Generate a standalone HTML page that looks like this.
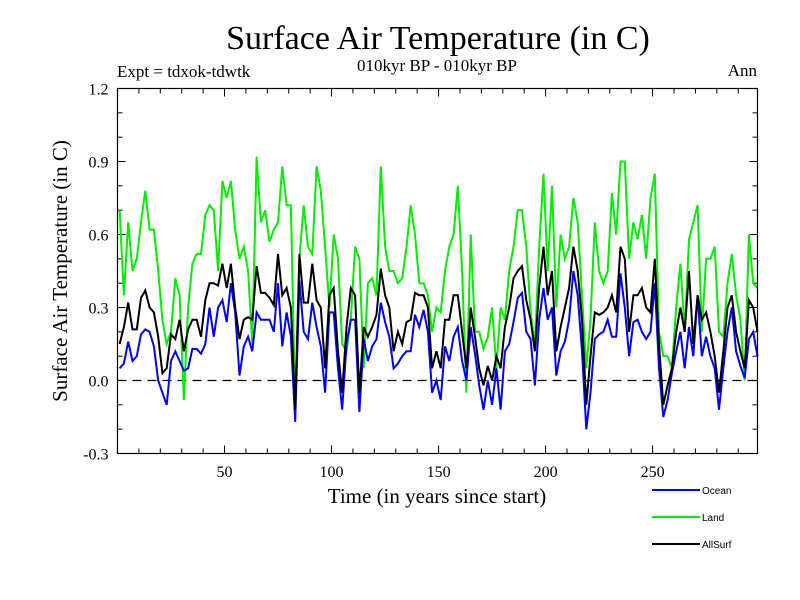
<!DOCTYPE html>
<html><head><meta charset="utf-8"><style>
html,body{margin:0;padding:0;background:#fff;}
svg{display:block;font-family:"Liberation Serif",serif;}
</style></head><body>
<svg id="chart" width="800" height="600" viewBox="0 0 800 600">
<text x="438" y="49" font-size="34" text-anchor="middle">Surface Air Temperature (in C)</text>
<text x="437" y="71" font-size="17" text-anchor="middle">010kyr BP - 010kyr BP</text>
<text x="117" y="77" font-size="17">Expt = tdxok-tdwtk</text>
<text x="757" y="76" font-size="17" text-anchor="end">Ann</text>
<text transform="translate(67,271) rotate(-90)" font-size="21" text-anchor="middle">Surface Air Temperature (in C)</text>
<text x="437" y="503" font-size="21" text-anchor="middle">Time (in years since start)</text>
<g id="ticks"></g>
<g id="series"></g>
<rect x="117.5" y="88.5" width="640" height="365" fill="none" stroke="#000" stroke-width="1.2"/>
<g font-family="Liberation Sans, sans-serif" font-size="10">
<line x1="652" y1="490" x2="700" y2="490" stroke="#0000ff" stroke-width="2"/>
<text x="702" y="494">Ocean</text>
<line x1="652" y1="517" x2="700" y2="517" stroke="#00ee00" stroke-width="2"/>
<text x="702" y="521">Land</text>
<line x1="652" y1="544" x2="700" y2="544" stroke="#000" stroke-width="2"/>
<text x="702" y="548">AllSurf</text>
</g>
</svg>
<script>
const ocean=[0.05,0.07,0.16,0.08,0.10,0.19,0.21,0.20,0.14,0.0,-0.05,-0.1,0.08,0.12,0.08,0.04,0.05,0.13,0.13,0.11,0.15,0.30,0.18,0.30,0.33,0.24,0.40,0.28,0.02,0.14,0.18,0.12,0.28,0.25,0.25,0.25,0.20,0.40,0.14,
0.28,0.18,-0.17,0.41,0.2,0.17,0.32,0.22,0.14,-0.05,0.28,0.28,0.05,-0.12,0.15,0.25,0.25,-0.13,0.17,0.08,0.14,0.17,0.32,0.24,0.18,0.05,0.07,0.1,0.12,0.12,0.27,0.22,0.29,
0.20,-0.05,0.0,
-0.08,0.14,0.08,0.18,0.22,0.08,0.0,0.22,0.11,-0.02,-0.12,0.0,-0.1,0.05,-0.12,0.12,0.15,0.24,0.34,0.36,0.2,0.17,-0.02,0.25,0.38,0.25,0.3,0.02,0.12,0.16,0.25,0.45,0.35,0.12,-0.2,-0.05,0.17,0.19,
0.2,0.25,0.18,0.18,0.44,0.3,0.1,0.24,0.25,0.2,0.17,0.2,0.4,0.05,-0.15,-0.08,0.03,0.12,0.2,0.05,0.22,0.1,0.35,0.1,0.18,0.1,0.05,-0.12,0.05,0.2,0.3,0.12,0.06,0.01,0.17,0.2,0.1];
const land=[0.70,0.35,0.65,0.45,0.50,0.65,0.78,0.62,0.62,0.45,0.25,0.15,0.2,0.42,0.35,-0.08,0.30,0.48,0.52,0.52,0.68,0.72,0.70,0.45,0.82,0.75,0.82,0.62,0.50,0.55,0.45,0.15,0.92,0.65,0.70,0.57,0.62,0.65,0.88,
0.72,0.72,-0.12,0.5,0.72,0.55,0.52,0.88,0.78,0.55,0.30,0.6,0.5,0.15,0.12,0.25,0.55,0.50,0.05,0.40,0.42,0.35,0.88,0.55,0.45,0.45,0.40,0.42,0.55,0.72,0.60,0.40,0.40,
0.35,0.2,0.3,
0.28,0.45,0.55,0.6,0.8,0.45,-0.05,0.6,0.2,0.2,0.13,0.18,0.3,0.05,0.3,0.25,0.45,0.55,0.7,0.7,0.55,0.28,0.15,0.55,0.85,0.45,0.8,0.3,0.6,0.5,0.55,0.75,0.65,0.35,0.05,0.25,0.65,0.45,
0.4,0.45,0.77,0.6,0.9,0.9,0.5,0.65,0.58,0.68,0.5,0.75,0.85,0.2,0.1,0.1,0.05,0.3,0.48,0.2,0.58,0.65,0.72,0.2,0.5,0.5,0.55,0.2,0.18,0.4,0.52,0.35,0.25,0.0,0.6,0.4,0.38];
const allsurf=[0.15,0.22,0.32,0.21,0.21,0.34,0.37,0.30,0.28,0.18,0.03,0.05,0.19,0.17,0.25,0.12,0.21,0.25,0.25,0.18,0.33,0.40,0.40,0.39,0.48,0.38,0.48,0.30,0.17,0.25,0.26,0.25,0.47,0.36,0.36,0.34,0.31,0.52,0.35,
0.38,0.30,-0.12,0.52,0.32,0.32,0.48,0.33,0.30,0.05,0.35,0.38,0.12,-0.05,0.22,0.38,0.35,-0.05,0.22,0.18,0.22,0.27,0.46,0.35,0.30,0.12,0.2,0.15,0.24,0.25,0.36,0.35,0.35,
0.3,0.05,0.12,
0.05,0.25,0.25,0.35,0.35,0.2,0.05,0.3,0.18,0.05,-0.02,0.06,0.0,0.1,0.05,0.22,0.3,0.42,0.45,0.47,0.33,0.25,0.12,0.38,0.55,0.35,0.45,0.12,0.22,0.3,0.38,0.55,0.45,0.25,-0.1,0.1,0.28,0.27,
0.28,0.3,0.35,0.28,0.55,0.5,0.2,0.35,0.35,0.38,0.3,0.28,0.5,0.15,-0.1,-0.02,0.05,0.2,0.3,0.2,0.45,0.15,0.35,0.25,0.28,0.2,0.1,-0.05,0.12,0.3,0.35,0.2,0.12,0.05,0.33,0.3,0.2];
const years=ocean.map((d,i)=>1+2*i);
const yTickLabels=["-0.3","0.0","0.3","0.6","0.9","1.2"];
const yTickValues=[-0.3,0,0.3,0.6,0.9,1.2];
const xTickValues=[50,100,150,200,250];

const NS="http://www.w3.org/2000/svg";
const X0=117.5,X1=757.5,Y0=453.5,Y1=88.5,xmin=0,xmax=299,ymin=-0.3,ymax=1.2;
function sx(v){return X0+(v-xmin)/(xmax-xmin)*(X1-X0);}
function sy(v){return Y0-(v-ymin)/(ymax-ymin)*(Y0-Y1);}
function mk(tag,attrs,parent){const e=document.createElementNS(NS,tag);for(const k in attrs)e.setAttribute(k,attrs[k]);parent.appendChild(e);return e;}
const tg=document.getElementById('ticks');
for(let v=-3;v<=12;v++){
  const y=sy(v/10);const major=(v%3===0);
  const t=mk('line',{x1:X0,x2:X0+(major?8:5),y1:y,y2:y,stroke:'#000','stroke-width':1},tg);
  
  
  const t2=mk('line',{x1:X1,x2:X1-(major?8:5),y1:y,y2:y,stroke:'#000','stroke-width':1},tg);
  
  
}
yTickValues.forEach((v,i)=>{
  const t=mk('text',{x:X0-9,y:sy(v)+6,'font-size':16,'text-anchor':'end'},tg);
  t.textContent=yTickLabels[i];
  
  
});
for(let v=10;v<=290;v+=10){
  const x=sx(v);const major=(v%50===0);
  const t=mk('line',{x1:x,x2:x,y1:Y0,y2:Y0-(major?8:5),stroke:'#000','stroke-width':1},tg);
  
  
  const t2=mk('line',{x1:x,x2:x,y1:Y1,y2:Y1+(major?8:5),stroke:'#000','stroke-width':1},tg);
  
  
}
xTickValues.forEach(v=>{
  const t=mk('text',{x:sx(v),y:477,'font-size':16,'text-anchor':'middle'},tg);
  t.textContent=String(v);
  
  
});
const sg=document.getElementById('series');
const zl=mk('line',{x1:X0,x2:X1,y1:sy(0),y2:sy(0),stroke:'#000','stroke-width':1.2,'stroke-dasharray':'9,6'},sg);


function drawSeries(vals,color,name){
  const pts=vals.map((v,i)=>sx(years[i]).toFixed(1)+','+sy(v).toFixed(1)).join(' ');
  const p=mk('polyline',{points:pts,fill:'none',stroke:color,'stroke-width':2,'stroke-linejoin':'miter'},sg);
  
  
}
drawSeries(land,'#00ee00','land-line');
drawSeries(ocean,'#0000ff','ocean-line');
drawSeries(allsurf,'#000000','allsurf-line');
</script>
</body></html>
